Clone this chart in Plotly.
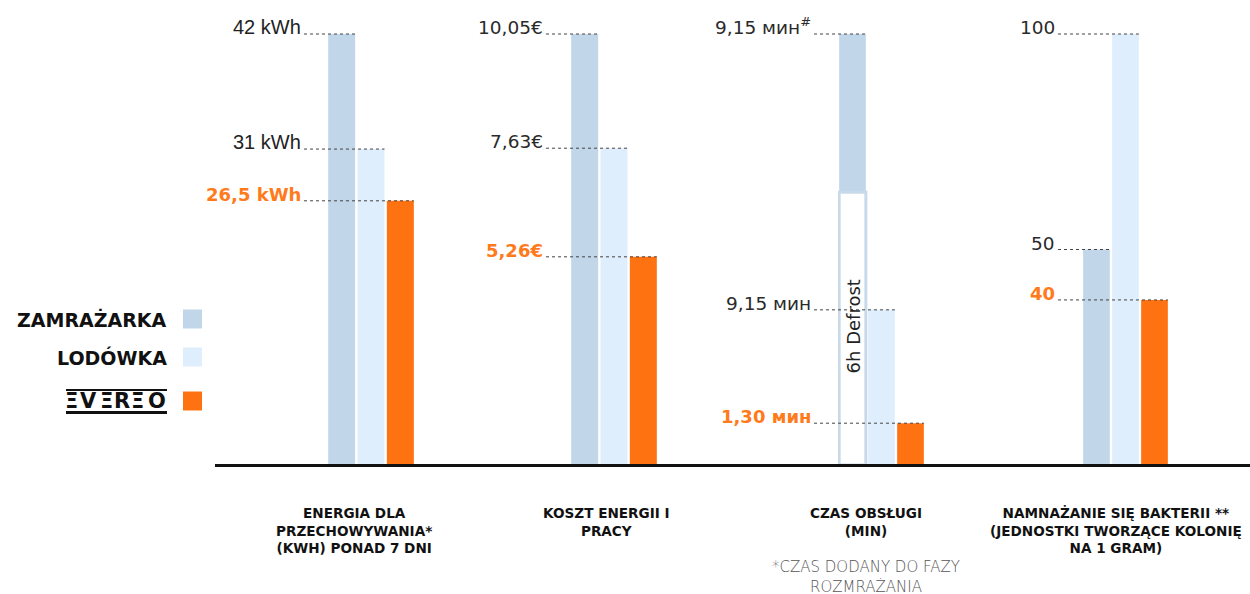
import plotly.graph_objects as go

# ---------------- data ----------------
categories = [
    "ENERGIA DLA<br>PRZECHOWYWANIA*<br>(KWH) PONAD 7 DNI",
    "KOSZT ENERGII I<br>PRACY",
    "CZAS OBSŁUGI<br>(MIN)",
    "NAMNAŻANIE SIĘ BAKTERII **<br>(JEDNOSTKI TWORZĄCE KOLONIĘ<br>NA 1 GRAM)",
]
series_names = ["ZAMRAŻARKA", "LODÓWKA", "EVEREO"]
logo_letters = ["Ξ", "V", "Ξ", "R", "Ξ", "O"]

# bar heights as drawn (relative, tallest bar = 100)
freezer_h = [100, 100, 100, 50]
defrost_h = [0, 0, 63.3, 0]          # part of freezer bar shown as "6h Defrost"
fridge_h = [73.3, 73.5, 36.0, 100]
evereo_h = [61.3, 48.3, 9.7, 38.3]

freezer_lbl = ["42 kWh", "10,05€", "9,15 мин<sup>#</sup>", "50"]
fridge_lbl = ["31 kWh", "7,63€", "9,15 мин", "100"]
evereo_lbl = ["26,5 kWh", "5,26€", "1,30 мин", "40"]

defrost_text = "6h Defrost"
footnote = "*CZAS DODANY DO FAZY<br>ROZMRAŻANIA"

# ---------------- style / layout ----------------
W, H = 1250, 594
TOP, BASE = 34, 465
PLOT_H = BASE - TOP
C_FREEZER = "#c2d6ea"
C_FRIDGE = "#dfeefc"
C_EVEREO = "#ff7212"
C_ORANGE_TXT = "#ff7a1a"
BGG = 0.08

group_dom_px = [(327, 415), (570, 658), (838, 925), (1082, 1169)]
label_end_px = [303, 545, 813, 1057]
cat_center_px = [354, 606, 866, 1116]

LIGHT_FONT = "'DejaVu Sans', sans-serif"
NARROW_FONT = "'Liberation Sans Narrow', 'Liberation Sans', sans-serif"
BOLD_FONT = "'DejaVu Sans', sans-serif"


def px(x):
    return x / W


def py(y):
    return (BASE - y) / PLOT_H


fig = go.Figure()
shapes = []
annotations = []

for i in range(4):
    ax = "x" if i == 0 else f"x{i + 1}"
    cat = [f"g{i}"]
    solid = freezer_h[i] - defrost_h[i]
    fig.add_trace(go.Bar(x=cat, y=[solid], base=[defrost_h[i]], xaxis=ax, yaxis="y",
                         offsetgroup="f", marker=dict(color=C_FREEZER, line=dict(width=0)),
                         showlegend=False, hoverinfo="skip"))
    if defrost_h[i] > 0:
        fig.add_trace(go.Bar(x=cat, y=[defrost_h[i]], base=[0], xaxis=ax, yaxis="y",
                             offsetgroup="f",
                             marker=dict(color="white", line=dict(color="#c8daea", width=3)),
                             showlegend=False, hoverinfo="skip"))
    fig.add_trace(go.Bar(x=cat, y=[fridge_h[i]], xaxis=ax, yaxis="y", offsetgroup="r",
                         marker=dict(color=C_FRIDGE, line=dict(width=0)),
                         showlegend=False, hoverinfo="skip"))
    fig.add_trace(go.Bar(x=cat, y=[evereo_h[i]], xaxis=ax, yaxis="y", offsetgroup="e",
                         marker=dict(color=C_EVEREO, line=dict(width=0)),
                         showlegend=False, hoverinfo="skip"))

    l, r = group_dom_px[i]
    gw = r - l
    if defrost_h[i] > 0:
        centre = l + gw * (0.5 / 3)
        annotations.append(dict(
            xref="paper", yref="y", x=px(centre + 0.5), y=defrost_h[i] / 2 + 0.5,
            xanchor="center", yanchor="middle", showarrow=False, textangle=-90,
            text=defrost_text,
            font=dict(family=LIGHT_FONT, size=18, color="#222")))

    for s, (h, lbl) in enumerate([(freezer_h[i], freezer_lbl[i]),
                                  (fridge_h[i], fridge_lbl[i]),
                                  (evereo_h[i], evereo_lbl[i])]):
        right = l + gw * ((s + 0.5) / 3 + (1 - BGG) / 6)
        shapes.append(dict(type="line", xref="paper", yref="paper",
                           x0=px(label_end_px[i] + 1), x1=px(right),
                           y0=h / 100, y1=h / 100,
                           line=dict(color="#444", width=1, dash="dot")))
        orange = s == 2
        if orange:
            font = dict(family=BOLD_FONT, size=18, weight="bold", color=C_ORANGE_TXT)
            text = f"<b>{lbl}</b>"
        elif i == 0:
            font = dict(family=NARROW_FONT, size=20, color="#222")
            text = lbl
        else:
            font = dict(family=LIGHT_FONT, size=18.5, color="#2a2a2a")
            text = lbl
        annotations.append(dict(
            xref="paper", yref="y", x=px(label_end_px[i]), y=h,
            xanchor="right", yanchor="bottom", yshift=-6, showarrow=False,
            text=text, font=font))

    annotations.append(dict(
        xref="paper", yref="paper", x=px(cat_center_px[i]), y=py(503),
        xanchor="center", yanchor="top", showarrow=False, align="center",
        text=f"<b>{categories[i]}</b>",
        font=dict(family=BOLD_FONT, size=13.6, color="#111")))

annotations.append(dict(
    xref="paper", yref="paper", x=px(866), y=py(556), xanchor="center", yanchor="top",
    showarrow=False, align="center", text=footnote,
    font=dict(family=LIGHT_FONT, size=15, weight=200, color="#555")))

# baseline
shapes.append(dict(type="line", xref="paper", yref="paper", x0=px(215), x1=1,
                   y0=py(BASE + 0.5), y1=py(BASE + 0.5),
                   line=dict(color="#111", width=3)))

# custom legend
leg_y = [319, 357, 401]
leg_col = [C_FREEZER, C_FRIDGE, C_EVEREO]
for k in range(3):
    shapes.append(dict(type="rect", xref="paper", yref="paper",
                       x0=px(183), x1=px(202), y0=py(leg_y[k] + 9.5), y1=py(leg_y[k] - 9.5),
                       fillcolor=leg_col[k], line=dict(width=0)))
for k in range(2):
    annotations.append(dict(
        xref="paper", yref="paper", x=px(168.5), y=py(leg_y[k]), xanchor="right",
        yanchor="middle", showarrow=False, text=f"<b>{series_names[k]}</b>",
        font=dict(family=BOLD_FONT, size=19, color="#111")))
# EVEREO logo (stylised letters between two rules)
logo_x = [71.5, 88.5, 106, 121.5, 137.5, 157]
for ch, xc in zip(logo_letters, logo_x):
    annotations.append(dict(
        xref="paper", yref="paper", x=px(xc), y=py(400.5), xanchor="center",
        yanchor="middle", showarrow=False, text=f"<b>{ch}</b>",
        font=dict(family="'DejaVu Sans', sans-serif", size=21, color="#111")))
for yl, lw in ((390, 2), (412.5, 3)):
    shapes.append(dict(type="line", xref="paper", yref="paper", x0=px(66), x1=px(167),
                       y0=py(yl), y1=py(yl), line=dict(color="#111", width=lw)))

layout = dict(
    width=W, height=H,
    margin=dict(l=0, r=0, t=TOP, b=H - BASE, pad=0),
    paper_bgcolor="white", plot_bgcolor="white",
    barmode="group", bargap=0, bargroupgap=BGG,
    showlegend=False,
    yaxis=dict(range=[0, 100], visible=False, fixedrange=True),
    shapes=shapes, annotations=annotations,
)
for i in range(4):
    key = "xaxis" if i == 0 else f"xaxis{i + 1}"
    l, r = group_dom_px[i]
    layout[key] = dict(domain=[px(l), px(r)], anchor="y", visible=False,
                       type="category", fixedrange=True)
fig.update_layout(**layout)

fig.write_html("out.html", config={"displayModeBar": False})
